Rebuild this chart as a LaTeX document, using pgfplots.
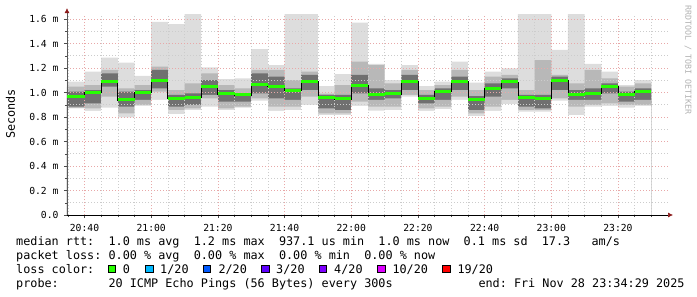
\documentclass[border=0pt]{standalone}
\usepackage{fontspec}
\usepackage{pgfplots}
\pgfplotsset{compat=1.18}
\usepackage{pgfplotstable}
\usetikzlibrary{arrows.meta}
\newfontfamily\mono{DejaVu Sans Mono}
\definecolor{smokeA}{HTML}{DDDDDD}
\definecolor{smokeB}{HTML}{B8B8B8}
\definecolor{smokeC}{HTML}{707070}
\definecolor{medgreen}{HTML}{26FF00}
\definecolor{mgrid}{HTML}{E8A8A8}
\definecolor{ngrid}{HTML}{CCCCCC}
\definecolor{arrowred}{HTML}{8B1A1A}
\definecolor{lc1}{HTML}{00B8FF}
\definecolor{lc2}{HTML}{0059FF}
\definecolor{lc3}{HTML}{5E00FF}
\definecolor{lc4}{HTML}{7E00FF}
\definecolor{lc10}{HTML}{DD00FF}
\definecolor{lc19}{HTML}{FF0000}

\pgfplotstableread{
t     pmin  lo1   lo2   med   hi2   hi1   pmax
34.75 0.871 0.875 0.884 0.966 1.007 1.048 1.088
40    0.849 0.871 0.912 0.998 1.020 1.061 1.170
45    0.876 0.966 1.048 1.086 1.157 1.184 1.284
50    0.797 0.830 0.884 0.939 1.007 1.034 1.243
55    0.890 0.898 0.939 1.004 1.020 1.061 1.135
60    0.939 1.007 1.034 1.094 1.184 1.211 1.576
65    0.824 0.857 0.884 0.952 0.980 1.020 1.559
70    0.857 0.871 0.898 0.961 0.993 1.075 1.700
75    0.884 0.952 0.980 1.047 1.102 1.156 1.206
80    0.857 0.871 0.925 0.988 1.020 1.061 1.110
85    0.876 0.884 0.925 0.980 0.993 1.034 1.116
90    0.933 0.952 0.993 1.067 1.156 1.184 1.355
95    0.849 0.884 0.952 1.047 1.129 1.184 1.224
100   0.857 0.884 0.939 1.020 1.034 1.102 1.700
105   0.898 0.966 1.020 1.091 1.143 1.170 1.700
110   0.816 0.830 0.871 0.963 0.980 0.990 1.053
115   0.816 0.830 0.857 0.947 0.980 1.061 1.151
120   0.890 0.925 0.993 1.061 1.143 1.252 1.570
125   0.852 0.884 0.939 0.982 1.034 1.224 1.233
130   0.857 0.884 0.952 0.988 1.020 1.075 1.102
135   0.966 0.980 1.020 1.088 1.143 1.184 1.224
140   0.849 0.871 0.912 0.952 0.980 1.020 1.053
145   0.865 0.884 0.939 1.007 1.034 1.061 1.088
150   0.939 0.966 1.020 1.088 1.129 1.184 1.252
155   0.808 0.830 0.857 0.939 0.971 1.020 1.080
160   0.849 0.884 0.966 1.033 1.075 1.129 1.170
165   0.906 0.939 1.034 1.086 1.116 1.143 1.197
170   0.843 0.857 0.884 0.963 0.980 1.020 1.700
175   0.843 0.857 0.871 0.952 0.980 1.265 1.700
180   0.933 0.952 1.020 1.099 1.129 1.143 1.347
185   0.816 0.884 0.939 0.982 1.020 1.075 1.700
190   0.884 0.898 0.939 0.990 1.034 1.184 1.233
195   0.890 0.912 0.993 1.053 1.075 1.116 1.170
200   0.876 0.898 0.925 0.985 1.007 1.048 1.061
205   0.890 0.898 0.939 1.007 1.034 1.075 1.102
210   0.890 0.898 0.939 1.007 1.034 1.075 1.102
}\smoke

\pgfplotsset{rrdframe/.style={
  at={(67pt,-215pt)}, anchor=south west, scale only axis,
  width=601pt, height=200.9pt,
  xmin=34.75, xmax=215, ymin=0, ymax=1.64}}

\begin{document}
\begin{tikzpicture}
\path[use as bounding box] (0pt,0pt) rectangle (697pt,-297pt);
\begin{axis}[
  rrdframe,
  axis on top,
  axis x line=bottom, axis y line=left,
  x axis line style={black, line width=0.6pt, -{Latex[length=5pt,width=5pt,color=arrowred]}, shorten >=-5pt},
  y axis line style={black!65, line width=0.6pt, -{Latex[length=5pt,width=5pt,color=arrowred]}, shorten >=-6pt},
  xtick={40,60,...,200},
  xticklabels={20:40,21:00,21:20,21:40,22:00,22:20,22:40,23:00,23:20},
  minor xtick={35,40,...,210},
  ytick={0,0.2,...,1.6},
  yticklabels={0.0,0.2 m,0.4 m,0.6 m,0.8 m,1.0 m,1.2 m,1.4 m,1.6 m},
  minor ytick={0.1,0.3,...,1.5},
  grid=both,
  major grid style={mgrid, line width=0.6pt, dash pattern=on 1pt off 2pt},
  minor grid style={ngrid, line width=0.6pt, dash pattern=on 1pt off 2pt},
  tick align=outside,
  major tick length=3pt, minor tick length=2pt,
  tick style={black!70, line width=0.5pt},
  ticklabel style={font=\mono\fontsize{9.7}{10}\selectfont},
  xticklabel style={anchor=base, yshift=-13.5pt},
  yticklabel style={anchor=east, xshift=-2pt},
]
% smoke bands: successive fills down to zero, each overwriting the previous
\addplot[draw=none, fill=smokeA, const plot mark left] table[x=t,y=pmax]{\smoke} \closedcycle;
\addplot[draw=none, fill=smokeB, const plot mark left] table[x=t,y=hi1]{\smoke} \closedcycle;
\addplot[draw=none, fill=smokeC, const plot mark left] table[x=t,y=hi2]{\smoke} \closedcycle;
\addplot[draw=none, fill=smokeB, const plot mark left] table[x=t,y=lo2]{\smoke} \closedcycle;
\addplot[draw=none, fill=smokeA, const plot mark left] table[x=t,y=lo1]{\smoke} \closedcycle;
\addplot[draw=none, fill=white, const plot mark left] table[x=t,y=pmin]{\smoke} \closedcycle;
\end{axis}
\begin{axis}[rrdframe, hide axis]
\addplot[black, line width=0.8pt, const plot mark left] table[x=t,y=med]{\smoke};
\addplot[medgreen, line width=3pt, jump mark left] table[x=t,y=med]{\smoke};
\end{axis}

\node[font=\mono\fontsize{11.8}{12}\selectfont, rotate=90] at (10.5pt,-114pt) {Seconds};
\node[font=\mono\fontsize{8.3}{9}\selectfont, rotate=-90, text=black!30] at (688pt,-60pt) {RRDTOOL / TOBI OETIKER};

\begin{scope}[every node/.style={font=\mono\fontsize{11.8}{12}\selectfont, inner sep=0pt, anchor=base west}]
\node at (16pt,-245pt) {median~rtt:~~1.0~ms~avg~~1.2~ms~max~~937.1~us~min~~1.0~ms~now~~0.1~ms~sd~~17.3~~~am/s};
\node at (16pt,-259.3pt) {packet~loss:~0.00~\%~avg~~0.00~\%~max~~0.00~\%~min~~0.00~\%~now};
\node at (16pt,-273.3pt) {loss~color:};
\node at (122.7pt,-273.3pt) {0};
\node at (160pt,-273.3pt) {1/20};
\node at (218.3pt,-273.3pt) {2/20};
\node at (276pt,-273.3pt) {3/20};
\node at (334pt,-273.3pt) {4/20};
\node at (392.3pt,-273.3pt) {10/20};
\node at (457.3pt,-273.3pt) {19/20};
\node at (16pt,-287.5pt) {probe:~~~~~~~20~ICMP~Echo~Pings~(56~Bytes)~every~300s};
\node at (478.3pt,-287.5pt) {end:~Fri~Nov~28~23:34:29~2025};
\end{scope}
\foreach \bx/\bc in {108.3/medgreen,145.7/lc1,203.3/lc2,261.7/lc3,319.3/lc4,377.7/lc10,442.7/lc19}{
  \filldraw[fill=\bc, draw=black, line width=0.6pt] (\bx pt,-265pt) rectangle ++(7.3pt,-7.5pt);
}
\end{tikzpicture}
\end{document}
